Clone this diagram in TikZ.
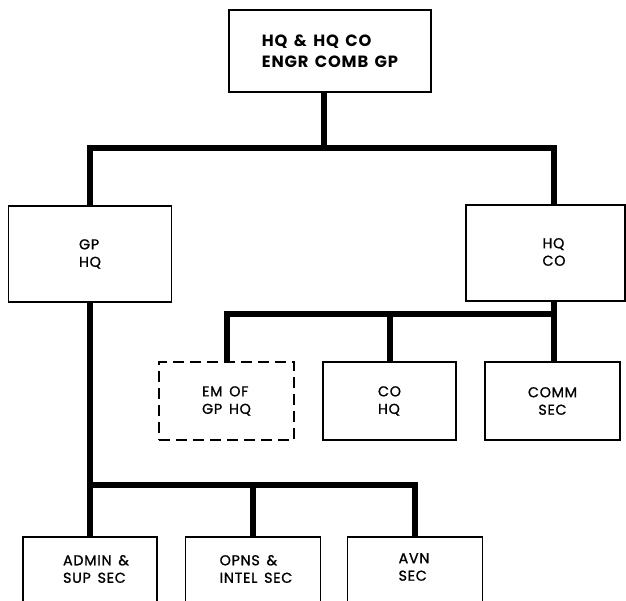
\documentclass[tikz,border=0pt]{standalone}
\usepackage{fontspec}
\setmainfont{Poppins}[LetterSpace=5, WordSpace=1.5, FakeBold=1.2, BoldFont={Poppins Bold}, BoldFeatures={FakeBold=0}]
\begin{document}
\begin{tikzpicture}[x=1pt,y=-1pt,
  box/.style={draw, line width=1.5pt, inner sep=0pt, align=left, font=\fontsize{14.3}{17.5}\selectfont},
  dbox/.style={box, dash pattern=on 11pt off 6pt},
  txt/.style={align=left, inner sep=0pt, font=\fontsize{14.3}{17.5}\selectfont},
  topfont/.style={font=\bfseries\fontsize{16.3}{21}\selectfont},
  conn/.style={line width=6pt, line join=miter}]
\useasboundingbox (0,0) rectangle (626,601);
\clip (0,0) rectangle (626,601);

% boxes
\node[box, topfont, minimum width=202pt, minimum height=82pt] (top) at (330,51) {HQ \& HQ CO\\ENGR COMB GP};
\node[box, minimum width=163pt, minimum height=96pt] (gphq) at (90,254) {GP\\HQ};
\node[box, minimum width=159pt, minimum height=96pt] (hqco) at (545.5,253) {};
\node[txt] (hqcot) at (554,252) {HQ\\CO};

\node[dbox, minimum width=135pt, minimum height=78pt] (em) at (226.5,401) {EM OF\\GP HQ};
\node[box, minimum width=133pt, minimum height=78pt] (co) at (389.5,401) {CO\\HQ};
\node[box, align=center, minimum width=135pt, minimum height=78pt] (comm) at (552.5,401) {COMM\\SEC};

\node[box, anchor=north, minimum width=134pt, minimum height=100pt] (admin) at (90,536) {};
\node[box, anchor=north, minimum width=135pt, minimum height=100pt] (opns) at (253,536) {};
\node[box, anchor=north, minimum width=135pt, minimum height=100pt] (avn) at (415,536) {};
\node[txt] (admint) at (96,569) {ADMIN \&\\SUP SEC};
\node[txt] (opnst) at (256,569) {OPNS \&\\INTEL SEC};
\node[txt] (avnt) at (414,567) {AVN\\SEC};

% junctions
\coordinate (j1) at (324,148);
\coordinate (j1r) at (554,148);
\coordinate (j2) at (554,314);
\coordinate (j3) at (90,485);

% connectors
\draw[conn] (j1 |- top.south) -- (j1);
\draw[conn] (gphq.north) |- (j1r) -- (j1r |- hqco.north);
\draw[conn] (j2 |- hqco.south) -- (j2 |- comm.north);
\draw[conn] (j2) -| (em.north);
\draw[conn] (j2 -| co.north) -- (co.north);
\draw[conn] (gphq.south) -- (admin.north);
\draw[conn] (j3) -| (avn.north);
\draw[conn] (j3 -| opns.north) -- (opns.north);
\end{tikzpicture}
\end{document}
